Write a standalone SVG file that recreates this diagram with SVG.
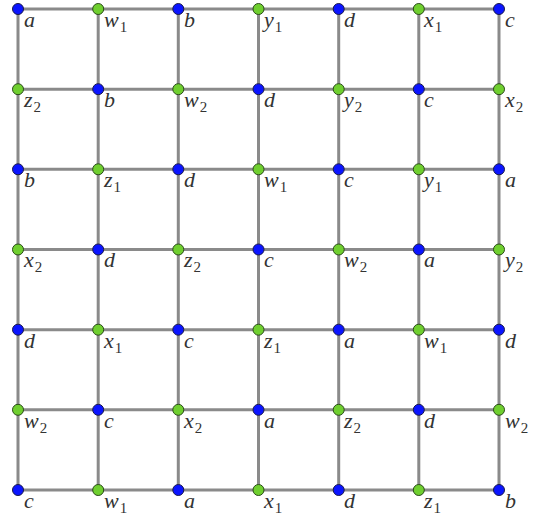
<svg xmlns="http://www.w3.org/2000/svg" width="539" height="518" viewBox="0 0 539 518">
<style>
.e{stroke:#8a8a8a;stroke-width:3;fill:none}
.b{fill:#0a14ff;stroke:#1a1a4a;stroke-width:1}
.g{fill:#6fcf2f;stroke:#2a4a1a;stroke-width:1}
text{font-family:"Liberation Serif","DejaVu Serif","Times New Roman",serif;font-style:italic;font-size:22px;fill:#333}
.s{font-style:normal;font-size:15px}
</style>
<rect width="539" height="518" fill="#fff"/>
<g id="connectors">
<path class="e" d="M18 9H499M18 89.2H499M18 169.3H499M18 249.5H499M18 329.7H499M18 409.8H499M18 490H499M18 9V490M98.2 9V490M178.3 9V490M258.5 9V490M338.7 9V490M418.8 9V490M499 9V490"/>
</g>
<g id="nodes">
<g id="n00"><circle class="b" cx="18" cy="9" r="5.5"/><text x="24" y="27">a</text></g>
<g id="n01"><circle class="g" cx="98.2" cy="9" r="5.5"/><text x="104" y="27">w<tspan class="s" dx="1" dy="5">1</tspan></text></g>
<g id="n02"><circle class="b" cx="178.3" cy="9" r="5.5"/><text x="184" y="27">b</text></g>
<g id="n03"><circle class="g" cx="258.5" cy="9" r="5.5"/><text x="264" y="27">y<tspan class="s" dx="1" dy="5">1</tspan></text></g>
<g id="n04"><circle class="b" cx="338.7" cy="9" r="5.5"/><text x="344" y="27">d</text></g>
<g id="n05"><circle class="g" cx="418.8" cy="9" r="5.5"/><text x="424" y="27">x<tspan class="s" dx="1" dy="5">1</tspan></text></g>
<g id="n06"><circle class="b" cx="499" cy="9" r="5.5"/><text x="505" y="27">c</text></g>

<g id="n10"><circle class="g" cx="18" cy="89.2" r="5.5"/><text x="24" y="107">z<tspan class="s" dx="1" dy="5">2</tspan></text></g>
<g id="n11"><circle class="b" cx="98.2" cy="89.2" r="5.5"/><text x="104" y="107">b</text></g>
<g id="n12"><circle class="g" cx="178.3" cy="89.2" r="5.5"/><text x="184" y="107">w<tspan class="s" dx="1" dy="5">2</tspan></text></g>
<g id="n13"><circle class="b" cx="258.5" cy="89.2" r="5.5"/><text x="264" y="107">d</text></g>
<g id="n14"><circle class="g" cx="338.7" cy="89.2" r="5.5"/><text x="344" y="107">y<tspan class="s" dx="1" dy="5">2</tspan></text></g>
<g id="n15"><circle class="b" cx="418.8" cy="89.2" r="5.5"/><text x="424" y="107">c</text></g>
<g id="n16"><circle class="g" cx="499" cy="89.2" r="5.5"/><text x="505" y="107">x<tspan class="s" dx="1" dy="5">2</tspan></text></g>

<g id="n20"><circle class="b" cx="18" cy="169.3" r="5.5"/><text x="24" y="187">b</text></g>
<g id="n21"><circle class="g" cx="98.2" cy="169.3" r="5.5"/><text x="104" y="187">z<tspan class="s" dx="1" dy="5">1</tspan></text></g>
<g id="n22"><circle class="b" cx="178.3" cy="169.3" r="5.5"/><text x="184" y="187">d</text></g>
<g id="n23"><circle class="g" cx="258.5" cy="169.3" r="5.5"/><text x="264" y="187">w<tspan class="s" dx="1" dy="5">1</tspan></text></g>
<g id="n24"><circle class="b" cx="338.7" cy="169.3" r="5.5"/><text x="344" y="187">c</text></g>
<g id="n25"><circle class="g" cx="418.8" cy="169.3" r="5.5"/><text x="424" y="187">y<tspan class="s" dx="1" dy="5">1</tspan></text></g>
<g id="n26"><circle class="b" cx="499" cy="169.3" r="5.5"/><text x="505" y="187">a</text></g>

<g id="n30"><circle class="g" cx="18" cy="249.5" r="5.5"/><text x="24" y="267">x<tspan class="s" dx="1" dy="5">2</tspan></text></g>
<g id="n31"><circle class="b" cx="98.2" cy="249.5" r="5.5"/><text x="104" y="267">d</text></g>
<g id="n32"><circle class="g" cx="178.3" cy="249.5" r="5.5"/><text x="184" y="267">z<tspan class="s" dx="1" dy="5">2</tspan></text></g>
<g id="n33"><circle class="b" cx="258.5" cy="249.5" r="5.5"/><text x="264" y="267">c</text></g>
<g id="n34"><circle class="g" cx="338.7" cy="249.5" r="5.5"/><text x="344" y="267">w<tspan class="s" dx="1" dy="5">2</tspan></text></g>
<g id="n35"><circle class="b" cx="418.8" cy="249.5" r="5.5"/><text x="424" y="267">a</text></g>
<g id="n36"><circle class="g" cx="499" cy="249.5" r="5.5"/><text x="505" y="267">y<tspan class="s" dx="1" dy="5">2</tspan></text></g>

<g id="n40"><circle class="b" cx="18" cy="329.7" r="5.5"/><text x="24" y="348">d</text></g>
<g id="n41"><circle class="g" cx="98.2" cy="329.7" r="5.5"/><text x="104" y="348">x<tspan class="s" dx="1" dy="5">1</tspan></text></g>
<g id="n42"><circle class="b" cx="178.3" cy="329.7" r="5.5"/><text x="184" y="348">c</text></g>
<g id="n43"><circle class="g" cx="258.5" cy="329.7" r="5.5"/><text x="264" y="348">z<tspan class="s" dx="1" dy="5">1</tspan></text></g>
<g id="n44"><circle class="b" cx="338.7" cy="329.7" r="5.5"/><text x="344" y="348">a</text></g>
<g id="n45"><circle class="g" cx="418.8" cy="329.7" r="5.5"/><text x="424" y="348">w<tspan class="s" dx="1" dy="5">1</tspan></text></g>
<g id="n46"><circle class="b" cx="499" cy="329.7" r="5.5"/><text x="505" y="348">d</text></g>

<g id="n50"><circle class="g" cx="18" cy="409.8" r="5.5"/><text x="24" y="428">w<tspan class="s" dx="1" dy="5">2</tspan></text></g>
<g id="n51"><circle class="b" cx="98.2" cy="409.8" r="5.5"/><text x="104" y="428">c</text></g>
<g id="n52"><circle class="g" cx="178.3" cy="409.8" r="5.5"/><text x="184" y="428">x<tspan class="s" dx="1" dy="5">2</tspan></text></g>
<g id="n53"><circle class="b" cx="258.5" cy="409.8" r="5.5"/><text x="264" y="428">a</text></g>
<g id="n54"><circle class="g" cx="338.7" cy="409.8" r="5.5"/><text x="344" y="428">z<tspan class="s" dx="1" dy="5">2</tspan></text></g>
<g id="n55"><circle class="b" cx="418.8" cy="409.8" r="5.5"/><text x="424" y="428">d</text></g>
<g id="n56"><circle class="g" cx="499" cy="409.8" r="5.5"/><text x="505" y="428">w<tspan class="s" dx="1" dy="5">2</tspan></text></g>

<g id="n60"><circle class="b" cx="18" cy="490" r="5.5"/><text x="24" y="508">c</text></g>
<g id="n61"><circle class="g" cx="98.2" cy="490" r="5.5"/><text x="104" y="508">w<tspan class="s" dx="1" dy="5">1</tspan></text></g>
<g id="n62"><circle class="b" cx="178.3" cy="490" r="5.5"/><text x="184" y="508">a</text></g>
<g id="n63"><circle class="g" cx="258.5" cy="490" r="5.5"/><text x="264" y="508">x<tspan class="s" dx="1" dy="5">1</tspan></text></g>
<g id="n64"><circle class="b" cx="338.7" cy="490" r="5.5"/><text x="344" y="508">d</text></g>
<g id="n65"><circle class="g" cx="418.8" cy="490" r="5.5"/><text x="424" y="508">z<tspan class="s" dx="1" dy="5">1</tspan></text></g>
<g id="n66"><circle class="b" cx="499" cy="490" r="5.5"/><text x="505" y="508">b</text></g>
</g>
</svg>
